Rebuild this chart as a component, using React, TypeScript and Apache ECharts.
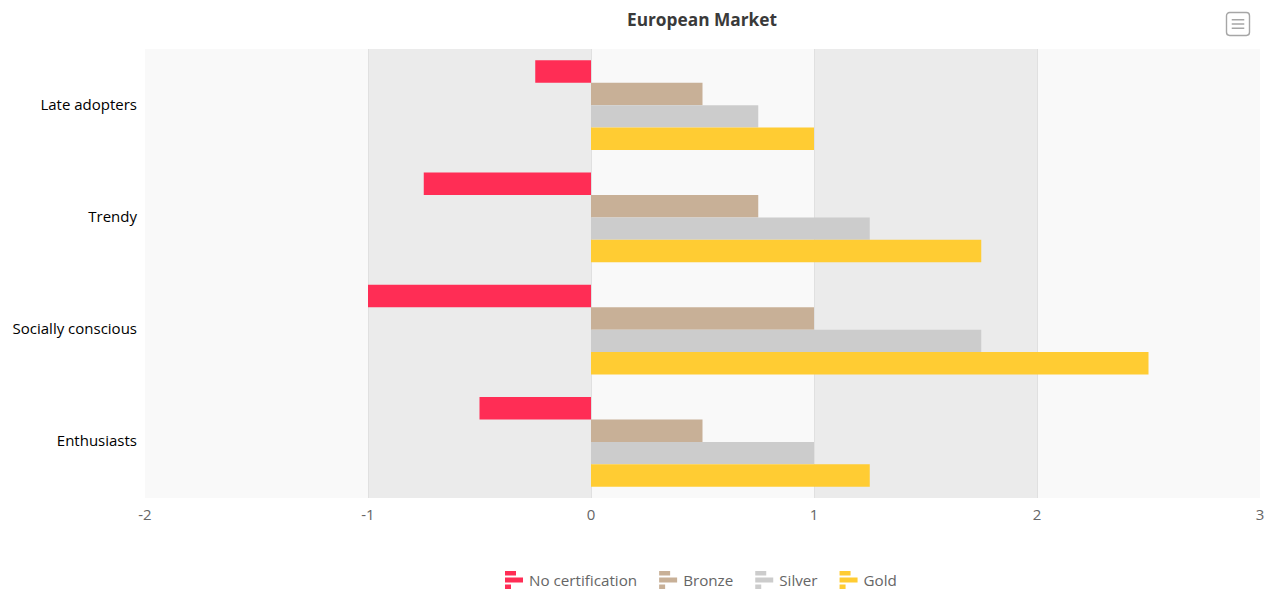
import React, { useEffect, useRef } from "react";
import * as echarts from "echarts";

const categories = ["Late adopters", "Trendy", "Socially conscious", "Enthusiasts"];
const noCertification = [-0.25, -0.75, -1, -0.5];
const bronze = [0.5, 0.75, 1, 0.5];
const silver = [0.75, 1.25, 1.75, 1];
const gold = [1, 1.75, 2.5, 1.25];
const seriesNames = ["No certification", "Bronze", "Silver", "Gold"];
const colors = ["#ff2d55", "#c8b097", "#cccccc", "#ffcc33"];
const FONT = "'Open Sans', sans-serif";
const legendIcon = "path://M0,0H11V4.5H0Z M0,6.5H18V11.5H0Z M0,13.5H6V18H0Z";
const menuIcon = "path://M4,1H20A3,3 0 0 1 23,4V20A3,3 0 0 1 20,23H4A3,3 0 0 1 1,20V4A3,3 0 0 1 4,1Z M6,8H18 M6,12H18 M6,16H18";

export default function App() {
  const ref = useRef<HTMLDivElement>(null);
  useEffect(() => {
    const chart = echarts.init(ref.current!, null, { renderer: "svg" });
    const values = [noCertification, bronze, silver, gold];
    chart.setOption({
      animation: false,
      backgroundColor: "#ffffff",
      title: {
        text: "European Market",
        top: 6,
        left: 697,
        textAlign: "center",
        textStyle: { fontFamily: FONT, fontSize: 17.3, fontWeight: "bold", color: "#3a3a3a" },
      },
      toolbox: {
        right: 26,
        top: 10,
        padding: 0,
        itemSize: 23,
        feature: {
          myMenu: {
            show: true,
            title: "Menu",
            icon: menuIcon,
            iconStyle: { color: "none", borderColor: "#a6a6a6", borderWidth: 1.4 },
            onclick: () => {},
          },
        },
      },
      legend: {
        data: seriesNames.map((name) => ({ name, icon: legendIcon })),
        bottom: 2,
        left: 500,
        itemWidth: 18,
        itemHeight: 18,
        itemGap: 22,
        textStyle: { fontFamily: FONT, fontSize: 15.2, color: "#666", padding: [0, 0, 0, 1] },
      },
      grid: { left: 145, right: 18, top: 49, bottom: 98 },
      xAxis: {
        type: "value",
        min: -2,
        max: 3,
        interval: 1,
        axisLine: { show: false },
        axisTick: { show: false },
        axisLabel: { fontFamily: FONT, fontSize: 15, color: "#666", margin: 8 },
        splitLine: { show: true, showMinLine: false, showMaxLine: false, lineStyle: { color: "#e0e0e0", width: 1 } },
        splitArea: {
          show: true,
          areaStyle: { color: ["#f9f9f9", "#ebebeb"] },
        },
      },
      yAxis: {
        type: "category",
        inverse: true,
        data: categories,
        axisLine: { show: false },
        axisTick: { show: false },
        axisLabel: {
          margin: 8,
          formatter: "{a|{value}}",
          rich: { a: { fontFamily: FONT, fontSize: 15, color: "#000", padding: [0, 0, 3, 0] } },
        },
      },
      series: seriesNames.map((name, i) => ({
        name,
        type: "bar",
        data: values[i],
        barGap: 0,
        barCategoryGap: "20%",
        itemStyle: { color: colors[i] },
      })),
    });
    return () => chart.dispose();
  }, []);
  return <div ref={ref} style={{ position: "absolute", left: 0, top: 0, width: 1278, height: 596 }} />;
}
